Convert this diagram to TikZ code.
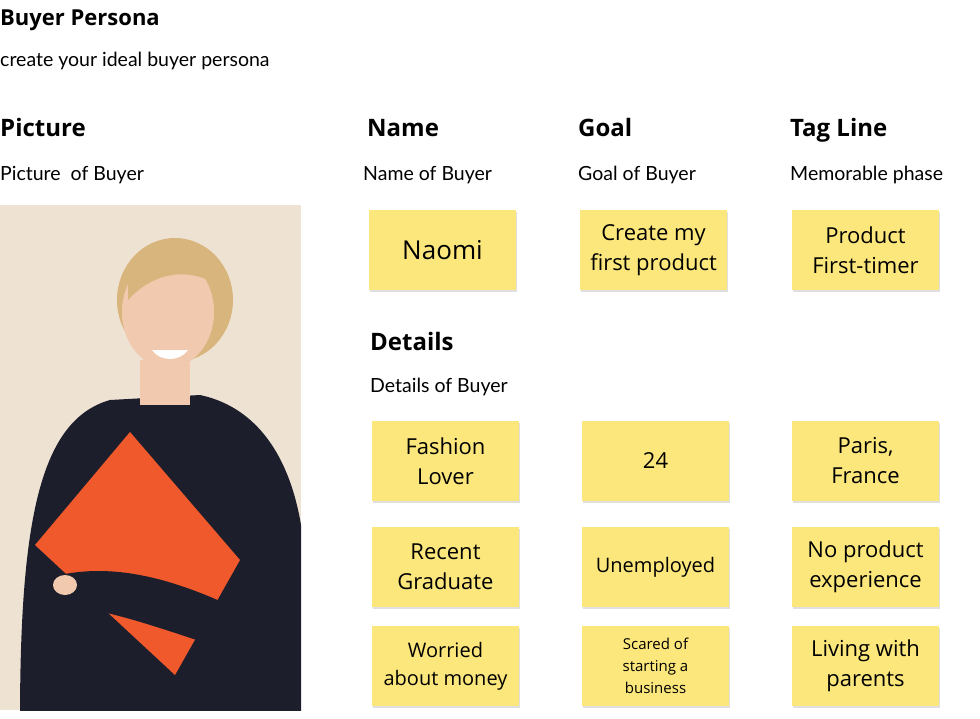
\documentclass[tikz,border=0pt]{standalone}
\usepackage{fontspec}
\usetikzlibrary{shadows}
\setmainfont{Open Sans}
\newfontfamily\bodyf{Lato}
\definecolor{sticky}{HTML}{FCE77C}
\definecolor{beige}{HTML}{EEE2D2}
\definecolor{navy}{HTML}{1C1E2C}
\definecolor{skin}{HTML}{F0C9AE}
\definecolor{hair}{HTML}{D9B57E}
\definecolor{folder}{HTML}{F0592B}
\begin{document}
\begin{tikzpicture}[x=1pt,y=-1pt,
  note/.style={fill=sticky,minimum width=147pt,minimum height=80pt,align=center,inner sep=2pt,
     font=\fontsize{22}{30}\selectfont,drop shadow={opacity=0.25,shadow xshift=1pt,shadow yshift=-2pt}},
  head/.style={anchor=base west,inner sep=0pt,font=\fontsize{24}{28}\selectfont\bfseries},
  sub/.style={anchor=base west,inner sep=0pt,font=\bodyf\fontsize{19.5}{22}\selectfont}]
\useasboundingbox (0,0) rectangle (980,719);
\fill[white] (0,0) rectangle (980,719);
\node[anchor=base west,inner sep=0pt,font=\fontsize{22}{26}\selectfont\bfseries] (t) at (0,26) {Buyer Persona};
\node[sub] (ts) at (0,67) {create your ideal buyer persona};
\node[head] (h1) at (0,137) {Picture};
\node[head] (h2) at (367,137) {Name};
\node[head] (h3) at (578,137) {Goal};
\node[head] (h4) at (790,137) {Tag Line};
\node[head] (h5) at (370,350) {Details};
\node[sub] (s1) at (0,181) {Picture\ \ of Buyer};
\node[sub] (s2) at (363,181) {Name of Buyer};
\node[sub] (s3) at (578,181) {Goal of Buyer};
\node[sub] (s4) at (790,181) {Memorable phase};
\node[sub] (s5) at (370,392) {Details of Buyer};
% photo
\begin{scope}
\clip (0,205) rectangle (301,710);
\fill[beige] (0,205) rectangle (301,710);
\fill[navy] (20,720) .. controls (20,520) and (40,420) .. (110,400) -- (200,395) .. controls (270,410) and (300,480) .. (305,560) -- (305,720) -- cycle;
\fill[skin] (140,360) rectangle (190,405);
\fill[hair] (175,300) ellipse (58 and 62);
\fill[skin] (168,312) ellipse (46 and 56);
\fill[hair] (128,270) .. controls (150,235) and (210,240) .. (225,290) .. controls (200,270) and (160,265) .. (128,300) -- cycle;
\fill[white] (152,350) .. controls (160,362) and (180,362) .. (188,350) -- cycle;
\fill[folder] (130,432) -- (240,560) -- (175,675) -- (35,545) -- cycle;
\fill[navy] (60,575) .. controls (130,560) and (200,590) .. (260,620) -- (260,660) .. controls (190,640) and (120,610) .. (60,605) -- cycle;
\fill[skin] (65,585) ellipse (12 and 10);
\end{scope}
% notes
\node[note,font=\fontsize{26}{30}\selectfont] (n1) at (442.5,250) {Naomi};
\node[note] (n2) at (653.5,250) {Create my\\first product};
\node[note] (n3) at (865.5,250) {Product\\First-timer};
\node[note] (d1) at (445.5,461) {Fashion\\Lover};
\node[note] (d2) at (655.5,461) {24};
\node[note] (d3) at (865.5,461) {Paris,\\France};
\node[note] (d4) at (445.5,567) {Recent\\Graduate};
\node[note,font=\fontsize{20}{26}\selectfont] (d5) at (655.5,567) {Unemployed};
\node[note] (d6) at (865.5,567) {No product\\experience};
\node[note,font=\fontsize{20}{28}\selectfont] (d7) at (445.5,666) {Worried\\about money};
\node[note,font=\fontsize{15}{22}\selectfont] (d8) at (655.5,666) {Scared of\\starting a\\business};
\node[note] (d9) at (865.5,666) {Living with\\parents};
\end{tikzpicture}
\end{document}
